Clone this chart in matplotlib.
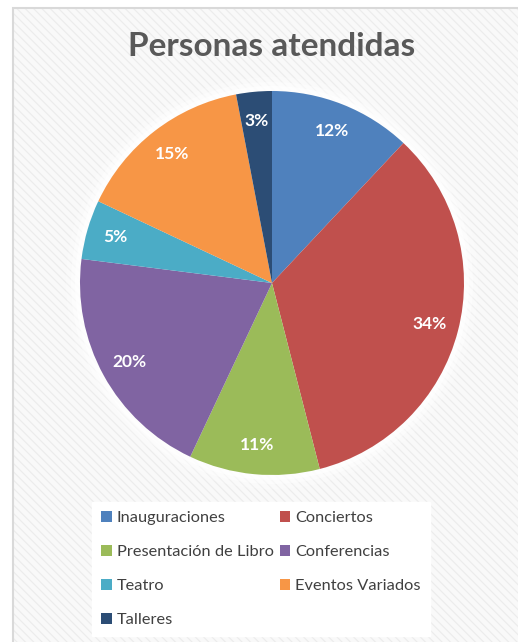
import matplotlib
matplotlib.use("Agg")
import matplotlib.pyplot as plt
from matplotlib.patches import Rectangle, Circle

title = "Personas atendidas"
categories = ["Inauguraciones", "Conciertos", "Presentación de Libro", "Conferencias",
              "Teatro", "Eventos Variados", "Talleres"]
values = [12, 34, 11, 20, 5, 15, 3]
colors = ["#4F81BD", "#C0504D", "#9BBB59", "#8064A2", "#4BACC6", "#F79646", "#2C4D75"]

W, H = 518, 642
fig = plt.figure(figsize=(W / 100, H / 100), dpi=100)
fig.patch.set_facecolor("white")
ax = fig.add_axes([0, 0, 1, 1])
ax.set_xlim(0, W)
ax.set_ylim(0, H)
ax.set_aspect("equal")
ax.axis("off")

plt.rcParams["hatch.linewidth"] = 0.8
bg = Rectangle((13, -5), W, H - 8 + 5, facecolor="#f9f9f9", edgecolor="#ececec",
               hatch="\\\\\\\\", linewidth=0, zorder=0)
ax.add_patch(bg)
ax.add_patch(Rectangle((13, -5), W, H - 8 + 5, facecolor="none", edgecolor="#d9d9d9",
                       linewidth=1.5, zorder=1))

cx, cy, r = 272, H - 283, 192
for rr, a in [(206, 0.25), (201, 0.45), (197, 0.7)]:
    ax.add_patch(Circle((cx, cy), rr, facecolor="white", edgecolor="none", alpha=a, zorder=2))

wedges, texts, autotexts = ax.pie(values, colors=colors, startangle=90, counterclock=False,
                                  center=(cx, cy), radius=r, autopct="%1.0f%%",
                                  pctdistance=0.85, frame=True,
                                  wedgeprops=dict(linewidth=0),
                                  textprops=dict(color="white", fontsize=12.5,
                                                 fontweight="bold", family="Lato"))
for w in wedges:
    w.set_zorder(3)
for t in autotexts:
    t.set_zorder(4)
ax.set_xlim(0, W)
ax.set_ylim(0, H)
ax.axis("off")

ax.text(272, H - 47, title, ha="center", va="center", fontsize=24, fontweight="bold",
        color="#595959", family="Lato", zorder=5)

# row-major ordering for a 2-column legend
order = [0, 2, 4, 6, 1, 3, 5]
leg = ax.legend([wedges[i] for i in order], [categories[i] for i in order], ncol=2,
                loc="upper left",
                bbox_to_anchor=(84 / W, 1 - 494 / H), frameon=True, fancybox=False,
                framealpha=1, edgecolor="white", facecolor="white",
                prop=dict(family="Lato", size=11.8), handlelength=0.65, handleheight=0.65,
                handletextpad=0.3, columnspacing=0.35, labelspacing=1.2,
                borderpad=0.55, labelcolor="#404040")
leg.set_zorder(6)

fig.savefig("out.png", dpi=100, facecolor="white")
